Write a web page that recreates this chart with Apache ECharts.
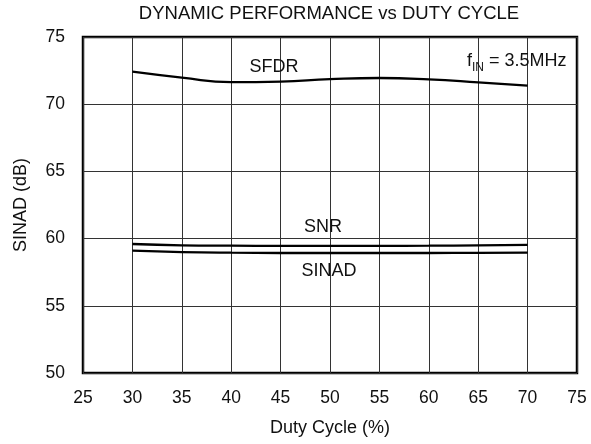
<!DOCTYPE html>
<html><head><meta charset="utf-8">
<script src="https://cdn.jsdelivr.net/npm/echarts@6/dist/echarts.min.js"></script>
<style>html,body{margin:0;padding:0;background:#fff}#c{width:591px;height:444px}</style>
</head><body><div id="c"></div>
<script>
const duty = [30, 35, 40, 45, 50, 55, 60, 65, 70];
const sfdr = [72.42, 71.98, 71.64, 71.68, 71.86, 71.95, 71.85, 71.63, 71.38];
const snr = [59.6, 59.5, 59.47, 59.46, 59.46, 59.46, 59.47, 59.5, 59.54];
const sinad = [59.1, 59.0, 58.95, 58.93, 58.93, 58.93, 58.93, 58.94, 58.95];
const xTicks = [25, 30, 35, 40, 45, 50, 55, 60, 65, 70, 75];
const yTicks = [50, 55, 60, 65, 70, 75];
const font = 'Liberation Sans, Arial, sans-serif';
const pairs = a => duty.map((d, i) => [d, a[i]]);
const mp = (coord, formatter, rich) => ({
  coord, symbol: 'rect', symbolSize: 1, itemStyle: { color: 'rgba(0,0,0,0)' },
  label: { show: true, position: 'inside', formatter, color: '#111', fontSize: 18, fontFamily: font, rich }
});
const chart = echarts.init(document.getElementById('c'));
chart.setOption({
  animation: false,
  title: { text: 'DYNAMIC PERFORMANCE vs DUTY CYCLE', left: 329, top: 4, padding: 0, textAlign: 'center',
    textStyle: { fontSize: 18.5, fontWeight: 'normal', color: '#111', fontFamily: font } },
  grid: { left: 83, right: 14, top: 37, bottom: 71, show: true, borderColor: '#000', borderWidth: 2.5 },
  xAxis: { type: 'value', min: xTicks[0], max: xTicks[xTicks.length - 1], interval: 5,
    name: 'Duty Cycle (%)', nameLocation: 'middle', nameGap: 46,
    nameTextStyle: { fontSize: 18, color: '#111', fontFamily: font },
    axisLine: { show: false }, axisTick: { show: false },
    axisLabel: { fontSize: 17.5, color: '#111', fontFamily: font, margin: 16 },
    splitLine: { lineStyle: { color: '#333', width: 1 } } },
  yAxis: { type: 'value', min: yTicks[0], max: yTicks[yTicks.length - 1], interval: 5,
    name: 'SINAD (dB)', nameLocation: 'middle', nameGap: 53,
    nameTextStyle: { fontSize: 18, color: '#111', fontFamily: font },
    axisLine: { show: false }, axisTick: { show: false },
    axisLabel: { fontSize: 17.5, color: '#111', fontFamily: font, margin: 18 },
    splitLine: { lineStyle: { color: '#333', width: 1 } } },
  series: [
    { name: 'SFDR', type: 'line', data: pairs(sfdr), smooth: 0.5, symbol: 'none',
      lineStyle: { color: '#000', width: 2.3 },
      markPoint: { data: [
        mp([44.34, 72.77], 'SFDR'),
        mp([68.9, 73.2], '{n|f}{s|IN}{n| = 3.5MHz}', {
          n: { fontSize: 18, fontFamily: font, color: '#111' },
          s: { fontSize: 12, fontFamily: font, color: '#111', padding: [12, 0, 0, 0] } })
      ] } },
    { name: 'SNR', type: 'line', data: pairs(snr), smooth: 0.5, symbol: 'none',
      lineStyle: { color: '#000', width: 2.3 },
      markPoint: { data: [ mp([49.29, 60.88], 'SNR') ] } },
    { name: 'SINAD', type: 'line', data: pairs(sinad), smooth: 0.5, symbol: 'none',
      lineStyle: { color: '#000', width: 2.3 },
      markPoint: { data: [ mp([49.9, 57.58], 'SINAD') ] } }
  ]
});
</script></body></html>
